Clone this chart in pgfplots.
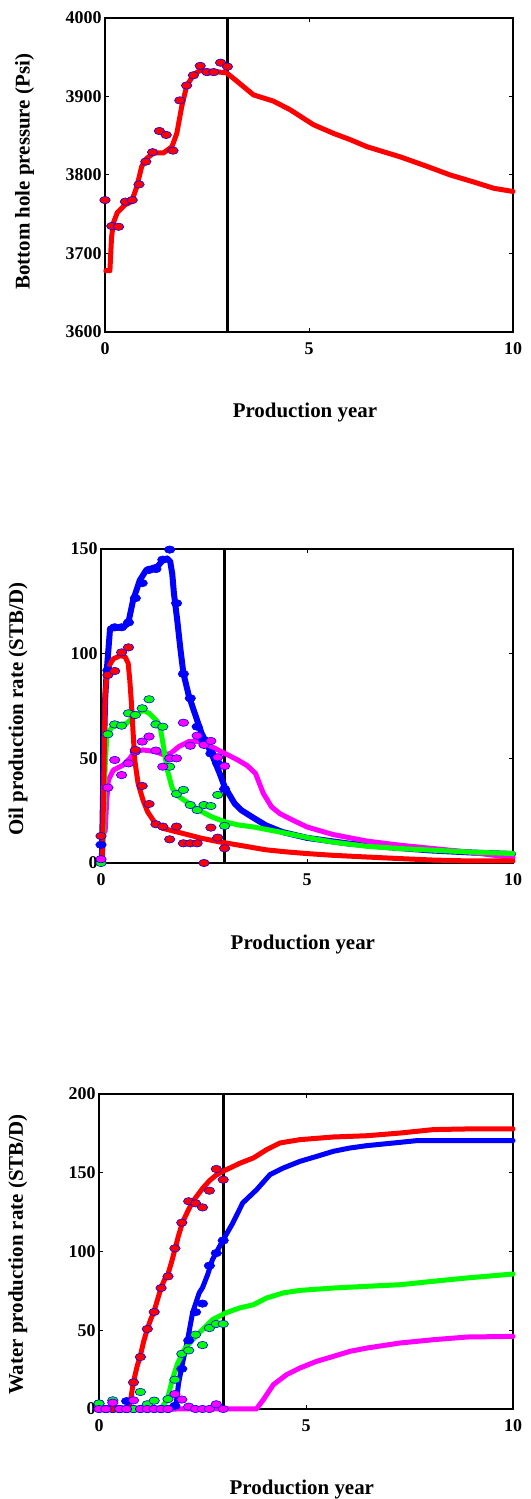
\documentclass[border=0pt]{standalone}
\usepackage{fontspec}
\setmainfont{Liberation Serif}
\usepackage{pgfplots}
\usepackage{pgfplotstable}
\pgfplotsset{compat=1.18}

\definecolor{wred}{RGB}{255,0,0}
\definecolor{wblue}{RGB}{0,0,255}
\definecolor{wgreen}{RGB}{0,255,0}
\definecolor{wmag}{RGB}{255,0,255}

% observed (history) data, every two months over the first three years
\pgfplotstableread{
t     bhp
0      3768
0.1667 3735
0.3333 3734
0.5    3766
0.6667 3768
0.8333 3788
1      3817
1.1667 3829
1.3333 3856
1.5    3851
1.6667 3831
1.8333 3895
2      3914
2.1667 3927
2.3333 3939
2.5    3931
2.6667 3931
2.8333 3943
3      3938
}\bhpobs

\pgfplotstableread{
t      red   blue  green mag
0      12.9  8.7   0     1.8
0.1667 89.8  92.0  61.5  36.0
0.3333 91.7  112.6 66.2  49.2
0.5    100.6 112.6 65.6  42.0
0.6667 103.0 114.9 71.5  47.6
0.8333 54.0  126.5 70.7  53.2
1      36.8  133.7 73.9  58.0
1.1667 28.2  140.0 78.2  60.4
1.3333 18.5  140.4 66.2  53.7
1.5    17.4  144.9 65.1  46.0
1.6667 11.3  149.7 46.0  50.0
1.8333 17.4  124.1 33.0  50.0
2      9.4   90.3  34.9  67.0
2.1667 9.4   78.7  27.7  56.0
2.3333 9.4   65.1  25.3  60.8
2.5    0     58.7  27.7  56.4
2.6667 16.9  52.3  27.2  58.3
2.8333 12.1  47.5  32.5  50.5
3      7.0   35.3  17.7  46.3
}\oilobs

\pgfplotstableread{
t      red   blue  green mag
0      0     3.5   3.5   0
0.1667 0     0     0     0
0.3333 0     0     5.5   4.0
0.5    0     0     0     0
0.6667 0     5.0   0     0
0.8333 16.9  0     0     5.5
1      33.0  0     10.8  0
1.1667 50.8  0     3.0   0
1.3333 61.6  0     5.3   0
1.5    76.8  0     0     0
1.6667 84.2  0     6.3   0
1.8333 102.0 2.0   18.6  9.5
2      118.3 25.5  35.0  6.0
2.1667 131.9 43.5  37.2  1.5
2.3333 130.6 61.5  47.2  0
2.5    128.0 66.9  40.6  0
2.6667 138.6 91.0  51.4  0
2.8333 152.4 99.0  54.0  3.0
3      145.6 107.0 54.0  0
}\watobs

\pgfplotsset{
  wellax/.style={
    scale only axis, xmin=0, xmax=10, xtick={0,5,10},
    clip=false, scaled ticks=false,
    axis line style={line width=1.5bp},
    tick style={line width=1bp, black},
    major tick length=4bp,
    /pgf/number format/assume math mode=true,
    /pgf/number format/set thousands separator={},
    ticklabel style={font=\fontsize{18}{18}\selectfont\bfseries},
    xticklabel style={yshift=-7bp},
    label style={font=\fontsize{21}{21}\selectfont\bfseries},
    xlabel={Production year},
    xlabel style={at={(axis description cs:0.49,-0.258)}, anchor=center},
  },
  sim/.style={line width=5bp, line join=round, line cap=round},
  obs/.style={only marks, mark=*, mark size=3.7bp,
    mark options={xscale=1.42, draw=wblue, line width=0.6bp, fill=#1}},
  cut/.style={black, line width=2.6bp},
}

\begin{document}
\begin{tikzpicture}[x=1bp,y=1bp]
\useasboundingbox (0,0) rectangle (531,1499);

% ---------------- bottom hole pressure ----------------
\begin{axis}[wellax, at={(105bp,1167bp)}, anchor=south west,
  width=408bp, height=314bp,
  ymin=3600, ymax=4000, ytick={3600,3700,3800,3900,4000},
  ylabel={Bottom hole pressure (Psi)},
  ylabel style={at={(axis description cs:-0.197,0.51)}, anchor=center}]
\addplot[cut] coordinates {(3,3600) (3,4000)};
\addplot[sim, wred] coordinates {
(0.02,3678) (0.12,3678) (0.16,3720) (0.2,3738) (0.3,3752) (0.49,3762)
(0.65,3766) (0.78,3785) (0.9,3811) (1.02,3821) (1.19,3828) (1.43,3828)
(1.64,3836) (1.76,3853) (1.88,3887) (2.0,3913) (2.17,3928) (2.33,3933)
(2.66,3932) (2.98,3930) (3.15,3923) (3.64,3902) (4.13,3894) (4.54,3883)
(5.11,3864) (5.6,3853) (6.01,3845) (6.42,3836) (7.24,3823) (7.89,3811)
(8.46,3800) (9.04,3791) (9.53,3783) (10,3779)};
\addplot[obs=wred] table[x=t, y=bhp] {\bhpobs};
\end{axis}

% ---------------- oil production rate ----------------
\begin{axis}[wellax, at={(101bp,636bp)}, anchor=south west,
  width=412bp, height=314bp,
  ymin=0, ymax=150, ytick={0,50,100,150},
  ylabel={Oil production rate (STB/D)},
  ylabel style={at={(axis description cs:-0.201,0.49)}, anchor=center},
  xlabel style={at={(axis description cs:0.49,-0.261)}}]
\addplot[cut] coordinates {(3,0) (3,150)};
\addplot[sim, wblue, line width=6bp] coordinates {
(0.02,0) (0.06,45) (0.1,78) (0.14,92) (0.22,112) (0.54,112.6) (0.66,114.5)
(0.78,125.6) (0.94,135) (1.1,140) (1.37,141.6) (1.49,144.4) (1.6,145.5)
(1.68,144) (1.73,138) (1.77,128.8) (1.85,116) (1.93,101.8) (2.0,90.6)
(2.13,80) (2.25,73) (2.44,62) (2.68,52.4) (2.88,42.8) (3.0,36.5)
(3.24,28.5) (3.4,25.3) (3.69,21.7) (4.0,18) (4.4,14.8) (5.0,12) (6.0,9.3)
(7,7.5) (8,6) (9,5) (10,4.3)};
\addplot[sim, wmag] coordinates {
(0.1,15) (0.14,30) (0.18,39.6) (0.3,44.4) (0.54,46.8) (0.7,50) (0.82,53.2)
(1.02,54) (1.33,53.2) (1.53,51.6) (1.69,52.4) (1.89,55.6) (2.13,58)
(2.37,58) (2.6,56.4) (2.84,54) (3.08,51.6) (3.32,49.2) (3.55,46.5)
(3.75,42.8) (3.94,33.2) (4.14,26.8) (4.34,23.6) (4.66,20.4) (5.0,17.2)
(5.63,13.6) (6.44,10.5) (7.25,8.5) (8.06,6.9) (8.87,5.3) (10,2.6)};
\addplot[sim, wgreen] coordinates {
(0.02,0) (0.06,14) (0.1,46) (0.14,60) (0.26,65) (0.62,66.7) (0.86,70.7)
(1.02,73) (1.17,71.5) (1.37,67.5) (1.45,63.5) (1.53,54) (1.61,44.4)
(1.73,35.7) (1.89,31.7) (2.13,28.5) (2.37,25.3) (2.68,22.1) (3.0,19.7)
(3.32,18.2) (3.7,17.2) (4.34,14.8) (5.15,11.6) (5.63,10) (6.44,8)
(7.25,6.9) (8.06,6.1) (8.87,5.3) (10,4.5)};
\addplot[sim, wred] coordinates {
(0.03,0) (0.07,40) (0.1,80) (0.14,89) (0.22,95) (0.3,97.5) (0.46,99)
(0.58,98.6) (0.66,95.4) (0.7,87) (0.74,76) (0.78,62) (0.82,49) (0.9,38)
(1.02,30) (1.13,24.5) (1.29,19.7) (1.49,16.6) (1.81,15) (2.13,13.4)
(2.44,11.8) (2.84,10.2) (3.05,9.5) (3.5,8) (4.0,6.3) (4.5,5.3) (5.0,4.5)
(5.6,3.7) (6.4,2.9) (7.25,2.1) (8.06,1.4) (8.87,1.0) (10,1.0)};
\addplot[obs=wblue] table[x=t, y=blue] {\oilobs};
\addplot[obs=wgreen] table[x=t, y=green] {\oilobs};
\addplot[obs=wmag] table[x=t, y=mag] {\oilobs};
\addplot[obs=wred] table[x=t, y=red] {\oilobs};
\end{axis}

% ---------------- water production rate ----------------
\begin{axis}[wellax, at={(99bp,90bp)}, anchor=south west,
  width=414bp, height=315bp,
  ymin=0, ymax=200, ytick={0,50,100,150,200},
  ylabel={Water production rate (STB/D)},
  ylabel style={at={(axis description cs:-0.196,0.49)}, anchor=center},
  xlabel style={at={(axis description cs:0.49,-0.257)}}]
\addplot[cut] coordinates {(3,0) (3,200)};
\addplot[sim, wblue] coordinates {
(0,0) (1.85,0) (1.92,16) (2.0,27) (2.14,44) (2.26,61) (2.42,73.7) (2.5,77)
(2.62,85) (2.74,94.8) (2.98,106.5) (3.23,118) (3.47,130.8) (3.81,139.3)
(4.13,148.8) (4.45,153) (4.85,157.2) (5.26,160.4) (5.66,163.6) (6.06,165.7)
(6.47,167.2) (7.27,169.3) (7.68,170.4) (10,170.4)};
\addplot[sim, wgreen] coordinates {
(0,0) (1.49,0) (1.65,6) (1.77,18.6) (1.9,29) (2.06,37.7) (2.26,44)
(2.5,50.4) (2.74,56.7) (3.06,61) (3.39,64.1) (3.73,66.2) (4.05,70.5)
(4.45,73.7) (4.85,75.3) (5.66,76.8) (6.47,77.9) (7.27,78.9) (8.08,81.1)
(8.89,83.2) (10,85.7)};
\addplot[sim, wred] coordinates {
(0,0) (0.72,0) (0.76,5) (0.83,17) (0.92,27) (1.0,34) (1.08,43) (1.17,51)
(1.25,57) (1.33,62) (1.42,70) (1.5,77) (1.58,82) (1.67,86) (1.75,93)
(1.83,101) (1.92,110) (2.0,117) (2.08,122) (2.17,127) (2.25,131)
(2.33,134) (2.5,140) (2.67,145) (2.83,148.5) (3.0,151) (3.2,153.5)
(3.4,156) (3.73,159.4) (4.05,164.7) (4.37,168.9) (4.85,171) (5.66,172.7)
(6.47,173.5) (7.27,175.2) (8.08,177.4) (8.89,177.8) (10,177.8)};
\addplot[sim, wmag] coordinates {
(0,0) (3.8,0) (3.97,5.9) (4.21,15.4) (4.53,21.8) (4.85,26) (5.26,30.3)
(5.66,33.4) (6.06,36.6) (6.47,38.7) (7.27,41.9) (8.08,44) (8.89,45.7)
(10,46.1)};
\addplot[obs=wblue] table[x=t, y=blue] {\watobs};
\addplot[obs=wred] table[x=t, y=red] {\watobs};
\addplot[obs=wgreen] table[x=t, y=green] {\watobs};
\addplot[obs=wmag] table[x=t, y=mag] {\watobs};
\end{axis}
\end{tikzpicture}
\end{document}
